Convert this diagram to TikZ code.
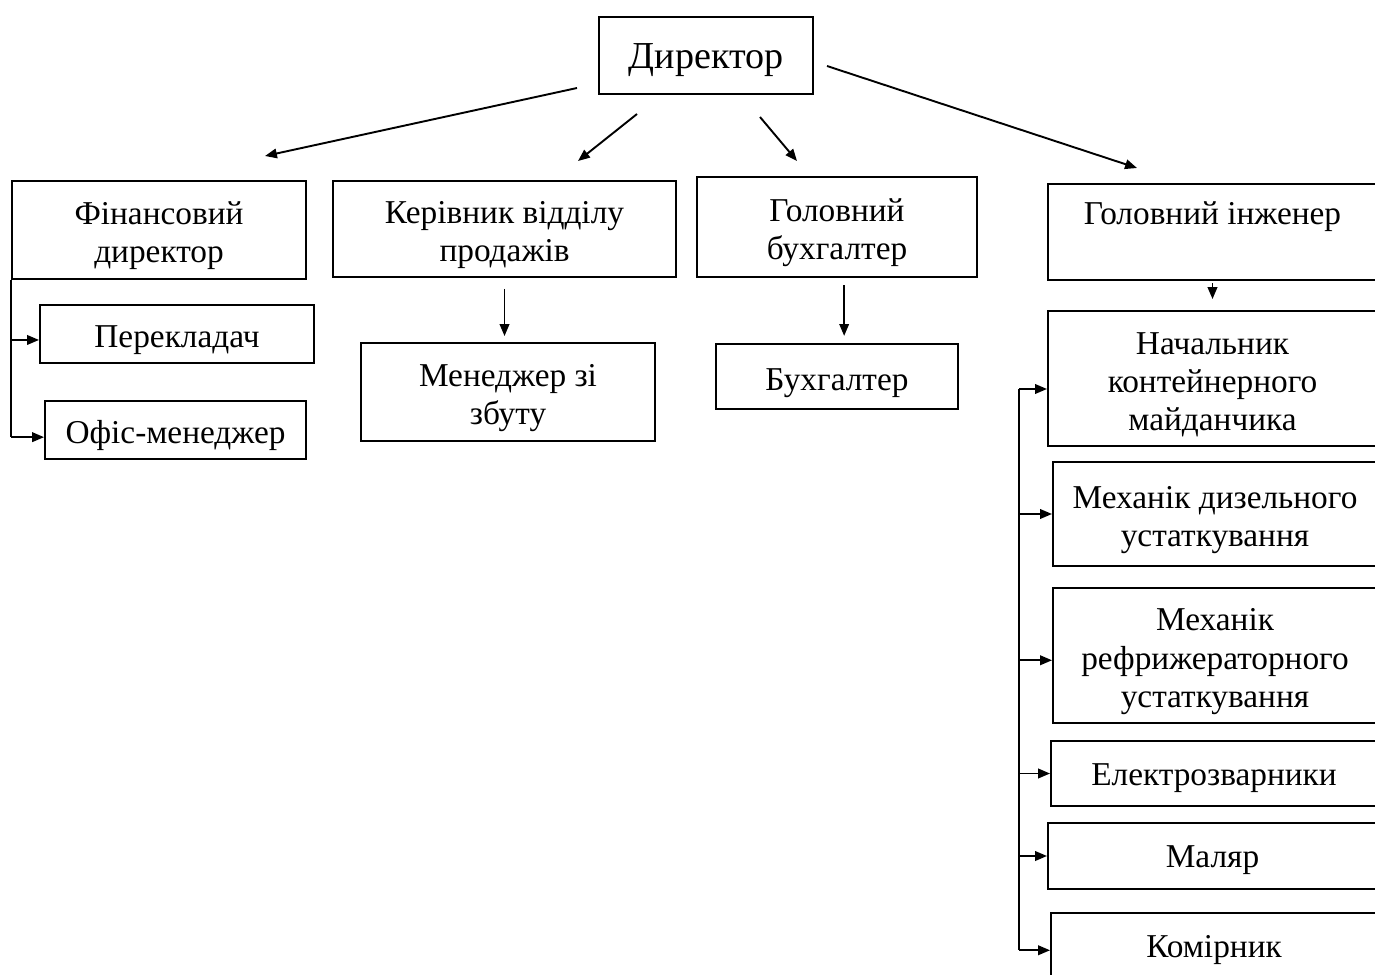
\documentclass[tikz,border=0pt]{standalone}
\usepackage{fontspec}
\setmainfont{Liberation Serif}
\usetikzlibrary{arrows.meta,positioning}
\newcommand\lnup{\rule{0pt}{14.5pt}}

\begin{document}
\begin{tikzpicture}[x=0.42pt,y=-0.42pt,
    box/.style={draw, line width=0.8pt, align=center, inner sep=0pt, font=\fontsize{14}{16.1}\selectfont},
    arr/.style={line width=0.8pt, -{Triangle[length=5pt,width=4pt]}},
    trunk/.style={line width=0.8pt}]
          \useasboundingbox (0,0) rectangle (1375,974);
          % top
          \node[box, minimum width=89.9pt, minimum height=32.3pt, font=\fontsize{16}{18}\selectfont](dir) at (706,55.5){\rule{0pt}{14pt}Директор};
          % left branch
          \node[box, minimum width=123.5pt, minimum height=41.2pt](fin) at (159,230){\lnup Фінансовий\\директор};
          \node[box, minimum width=115.1pt, minimum height=24.4pt](perek) at (177,334){\lnup Перекладач};
          \node[box, minimum width=109.6pt, minimum height=24.4pt](ofis) at (175.5,430){\lnup Офіс-менеджер};
          \node[box, minimum width=144.1pt, minimum height=40.3pt](kerivnyk) at (504.5,229){\lnup Керівник відділу\\продажів};
          \node[box, minimum width=123.5pt, minimum height=41.2pt](menedzh) at (508,392){\lnup Менеджер зі\\збуту};
          \node[box, minimum width=117.6pt, minimum height=42pt](golbuh) at (837,227){\lnup Головний\\бухгалтер};
          \node[box, minimum width=101.6pt, minimum height=27.3pt](buh) at (837,376.5){\lnup Бухгалтер};
          % right branch
          \node[box, minimum width=138.2pt, minimum height=40.3pt](goling) at (1212.5,232){\lnup Головний інженер\\ \strut};
          \node[box, minimum width=138.2pt, minimum height=56.7pt](nach) at (1212.5,378.5){\lnup Начальник\\контейнерного\\майданчика};
          \node[box, minimum width=136.1pt, minimum height=43.7pt](mech1) at (1215,514){\lnup Механік дизельного\\устаткування};
          \node[box, minimum width=136.1pt, minimum height=56.7pt](mech2) at (1215,655.5){\lnup Механік\\рефрижераторного\\устаткування};
          \node[box, minimum width=136.9pt, minimum height=27.3pt](elek) at (1214,773.5){\rule{0pt}{13pt}Електрозварники};
          \node[box, minimum width=138.2pt, minimum height=27.7pt](malyar) at (1212.5,856){\rule{0pt}{13pt}Маляр};
          \node[box, minimum width=136.9pt, minimum height=27.3pt](komir) at (1214,945.5){\rule{0pt}{13pt}Комірник};
          % arrows from the director
          \coordinate (d1s) at (577,88);  \coordinate (d1e) at (265,156);
          \coordinate (d2s) at (637,114); \coordinate (d2e) at (578,161);
          \coordinate (d3s) at (760,117); \coordinate (d3e) at (797,161);
          \coordinate (d4s) at (827,66);  \coordinate (d4e) at (1137,168);
          \draw[arr](d1s) -- (d1e);
          \draw[arr](d2s) -- (d2e);
          \draw[arr](d3s) -- (d3e);
          \draw[arr](d4s) -- (d4e);
          % down arrows
          \draw[arr, shorten <=4.6pt, shorten >=2.5pt](kerivnyk.south) -- (kerivnyk.south |- menedzh.north);
          \draw[arr, shorten <=3pt, shorten >=3pt]([xshift=3pt]golbuh.south) -- ([xshift=3pt]golbuh.south |- buh.north);
          \draw[arr, shorten <=1pt, shorten >=4.6pt](goling.south) -- (goling.south |- nach.north);
          % left trunk
          \draw[trunk](fin.south west) -- ([yshift=-3pt]ofis.west -| fin.south west);
          \draw[arr]([yshift=-2.5pt]perek.west -| fin.south west) -- ([yshift=-2.5pt]perek.west);
          \draw[arr]([yshift=-3pt]ofis.west -| fin.south west) -- ([yshift=-3pt]ofis.west);
          % right trunk
          \coordinate (rtrunk) at (1019,389);
          \draw[trunk](rtrunk) -- ([yshift=-2pt]komir.west -| rtrunk);
          \draw[arr](rtrunk) -- (rtrunk -| nach.west);
          \draw[arr](mech1.west -| rtrunk) -- (mech1.west);
          \draw[arr]([yshift=-2pt]mech2.west -| rtrunk) -- ([yshift=-2pt]mech2.west);
          \draw[arr](elek.west -| rtrunk) -- (elek.west);
          \draw[arr](malyar.west -| rtrunk) -- (malyar.west);
          \draw[arr]([yshift=-2pt]komir.west -| rtrunk) -- ([yshift=-2pt]komir.west);
        \end{tikzpicture}
\end{document}
